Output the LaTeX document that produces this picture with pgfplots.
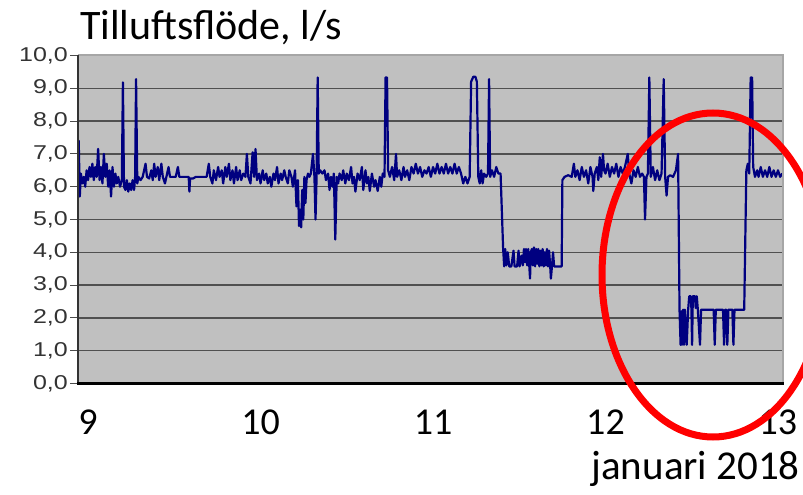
\documentclass[border=0pt]{standalone}
\usepackage{pgfplots}
\pgfplotsset{compat=1.18}
\usepackage{fontspec}
\setmainfont{Carlito}
\newfontfamily\yfont[FakeStretch=1.25]{Liberation Sans}
\definecolor{plotbg}{HTML}{C0C0C0}
\definecolor{navyline}{HTML}{000080}
\definecolor{gridc}{HTML}{505050}
\begin{document}
\begin{tikzpicture}
\useasboundingbox (0,0) rectangle (803pt,495pt);
\begin{axis}[
  at={(78pt,111.5pt)}, anchor=south west,
  scale only axis, width=705pt, height=328pt,
  xmin=-1.4, xmax=96.7, ymin=0, ymax=10,
  xtick={0,24,48,72,96}, xticklabels={9,10,11,12,13},
  ytick={0,1,...,10},
  yticklabels={{0,0},{1,0},{2,0},{3,0},{4,0},{5,0},{6,0},{7,0},{8,0},{9,0},{10,0}},
  axis background/.style={fill=plotbg},
  axis line style={draw=none},
  ymajorgrids, major grid style={gridc, line width=1.5pt},
  tick align=outside, ytick pos=left, xtick pos=bottom,
  xtick style={draw=none}, ytick style={black!70, line width=1pt},
  major tick length=8pt,
  yticklabel style={font=\yfont\fontsize{20}{20}\selectfont, text=black!80, anchor=east, inner sep=0pt, xshift=-2pt},
  xticklabel style={font=\fontsize{38}{38}\selectfont, anchor=base, inner sep=0pt, yshift=-43pt},
]
\addplot[navyline, line width=2.2pt, line join=round] coordinates {
(-1.4,6.2) (-1.3,7.4) (-1.15,5.7) (-1.0,6.4) (-0.8,6.1) (-0.6,6.3) (-0.4,6.0) (-0.2,6.5) (0,6.2) (0.2,6.6)
(0.4,6.3) (0.6,6.7) (0.8,6.2) (1.0,6.6) (1.2,6.3) (1.4,7.15) (1.6,6.2) (1.8,6.6) (2.0,6.1) (2.2,7.0)
(2.4,6.3) (2.6,6.7) (2.8,6.0) (3.0,6.5) (3.2,5.7) (3.4,6.6) (3.6,6.0) (3.8,6.4) (4.0,6.1) (4.2,6.3)
(4.45,6.0) (4.7,6.2) (4.85,9.18) (5.0,6.0) (5.2,5.9) (5.4,6.2) (5.6,5.85) (5.8,6.1) (6.0,5.9) (6.2,6.2)
(6.4,5.9) (6.55,6.3) (6.68,9.28) (6.85,6.1) (7.0,6.3) (7.3,6.2) (7.6,6.3) (8.0,6.7) (8.2,6.3) (8.5,6.25)
(8.8,6.5) (9.0,6.2) (9.2,6.7) (9.4,6.3) (9.7,6.6) (9.9,6.2) (10.2,6.7) (10.4,6.3) (10.7,6.1) (10.9,6.3)
(11.2,6.6) (11.4,6.3) (11.8,6.3) (12.2,6.3) (12.5,6.6) (12.7,6.3) (13.2,6.3) (13.6,6.3) (14.0,6.3) (14.1,5.85)
(14.2,6.25) (14.6,6.25) (15.0,6.3) (15.5,6.3) (16.0,6.3) (16.5,6.3) (16.8,6.7) (17.0,6.3) (17.3,6.1) (17.5,6.5)
(17.8,6.2) (18.1,6.6) (18.3,6.3) (18.6,6.5) (18.8,6.1) (19.1,6.6) (19.3,6.3) (19.6,6.7) (19.8,6.2) (20.1,6.5)
(20.3,6.1) (20.6,6.6) (20.8,6.2) (21.1,6.5) (21.3,6.2) (21.6,6.4) (21.9,6.3) (22.1,7.0) (22.3,6.3) (22.6,6.1)
(22.9,7.05) (23.1,6.3) (23.3,7.15) (23.5,6.2)
(23.8,6.4) (24.0,6.1) (24.3,6.5) (24.5,6.2) (24.8,6.4) (25.0,6.1) (25.3,6.3) (25.5,6.0) (25.8,6.4) (26.0,6.2)
(26.3,6.6) (26.5,6.1) (26.8,6.4) (27.0,6.2) (27.3,6.5) (27.5,6.3) (27.8,6.1) (28.0,6.5) (28.3,6.3) (28.5,6.0)
(28.8,6.5) (29.0,5.4) (29.2,6.2) (29.35,4.8) (29.5,5.3) (29.65,4.76) (29.8,5.9) (29.95,5.0) (30.1,6.3) (30.25,5.5)
(30.4,6.2) (30.6,6.4) (30.8,6.3) (31.0,6.4) (31.3,7.0) (31.5,6.3) (31.65,5.0) (31.8,6.3) (31.95,9.33) (32.1,6.4)
(32.3,6.5) (32.6,6.4) (32.9,6.5) (33.1,6.2) (33.4,6.4) (33.6,5.9) (33.8,6.3) (34.0,6.0) (34.2,6.4) (34.4,4.39)
(34.6,6.3) (34.8,6.1) (35.0,6.4) (35.3,6.2) (35.5,6.5) (35.8,6.1) (36.0,6.4) (36.3,6.2) (36.6,6.6) (36.8,6.1)
(37.0,6.3) (37.2,5.85) (37.5,6.4) (37.8,6.2) (38.1,6.6) (38.3,5.9) (38.6,6.5) (38.8,6.1) (39.0,6.3) (39.2,5.87)
(39.5,6.4) (39.8,6.0) (40.0,6.2) (40.3,5.87) (40.6,6.3) (40.8,6.0) (41.0,6.4) (41.25,6.3) (41.4,9.33) (41.6,9.33)
(41.75,6.5) (42.0,6.3) (42.3,6.6) (42.6,6.2) (42.85,7.0) (43.0,6.3) (43.3,6.5) (43.6,6.2) (43.9,6.6) (44.1,6.3)
(44.4,6.5) (44.7,6.2) (45.0,6.6) (45.3,6.4) (45.6,6.7) (45.9,6.4) (46.2,6.6) (46.5,6.3) (46.8,6.5) (47.1,6.4)
(47.4,6.6) (47.7,6.3)
(48.0,6.6) (48.3,6.4) (48.6,6.7) (48.9,6.4) (49.2,6.6) (49.5,6.4) (49.8,6.7) (50.1,6.4) (50.4,6.6) (50.7,6.4)
(51.0,6.7) (51.3,6.4) (51.6,6.6) (51.9,6.4) (52.2,6.1) (52.5,6.3) (52.8,6.1) (53.1,6.3) (53.3,9.2) (53.6,9.35)
(53.9,9.35) (54.1,9.2) (54.3,6.3) (54.5,6.1) (54.7,6.5) (54.9,6.1) (55.1,6.4) (55.4,6.3) (55.65,6.4) (55.8,9.28)
(55.95,6.3) (56.2,6.5) (56.5,6.3) (56.8,6.6) (57.1,6.4) (57.4,6.4) (57.75,4.15) (57.9,3.57)
(58.05,4.1) (58.2,3.6) (58.4,4.0) (58.6,3.57) (58.9,3.57) (59.2,4.05) (59.35,3.57) (59.7,3.57) (59.9,4.05) (60.05,3.57)
(60.3,3.9) (60.5,3.6) (60.65,4.1) (60.8,3.7) (60.95,4.1) (61.1,3.6) (61.25,4.1) (61.4,3.57) (61.5,3.2) (61.6,4.0)
(61.75,4.1) (61.9,3.6) (62.05,4.15) (62.2,3.57) (62.35,4.1) (62.5,3.65) (62.65,4.1) (62.8,3.57) (62.95,4.05) (63.1,3.6)
(63.25,4.1) (63.4,3.57) (63.55,4.0) (63.7,3.6) (63.85,4.1) (64.0,3.57) (64.15,4.05) (64.3,3.6) (64.4,3.2) (64.55,3.57)
(64.7,4.0) (64.85,3.57) (65.2,3.57) (65.6,3.57) (65.9,3.57)
(66.0,6.2) (66.3,6.3) (66.8,6.35) (67.3,6.3) (67.6,6.7) (67.8,6.3) (68.1,6.5) (68.4,6.2) (68.7,6.6) (69.0,6.3)
(69.3,6.5) (69.6,6.1) (69.9,6.6) (70.2,6.3) (70.3,5.87) (70.5,6.4) (70.8,6.6) (71.0,6.2) (71.2,6.9) (71.4,6.3)
(71.65,7.0) (71.8,6.5)
(72.0,6.4) (72.3,6.7) (72.6,6.3) (72.9,6.6) (73.2,6.4) (73.5,6.7) (73.8,6.3) (74.1,6.6) (74.4,6.4) (74.7,6.6)
(75.1,7.0) (75.3,6.4) (75.6,6.1) (75.9,6.5) (76.2,6.3) (76.5,6.6) (76.8,6.3) (77.1,6.4) (77.35,6.3) (77.5,5.0)
(77.7,6.3) (77.9,6.4) (78.1,9.33) (78.3,6.3) (78.6,6.6) (78.9,6.2) (79.2,6.5) (79.5,6.2) (79.8,6.4) (80.1,9.28)
(80.3,6.3) (80.5,5.73) (80.7,6.3) (81.0,6.35) (81.4,6.3) (81.8,6.5) (82.1,7.0) (82.3,2.25) (82.45,1.18) (82.55,2.2)
(82.65,1.18) (82.8,2.25) (82.92,1.18) (83.05,2.25) (83.3,1.18) (83.5,2.25) (83.65,2.66) (83.85,2.66) (83.95,2.3) (84.05,1.18)
(84.15,2.66) (84.45,2.66) (84.55,2.3) (84.7,2.66) (84.85,2.25) (85.15,1.18) (85.3,2.25) (87.05,2.25) (87.2,1.18) (87.35,2.25)
(88.35,2.25) (88.5,1.18) (88.65,2.25) (88.8,2.25) (88.95,1.18) (89.1,2.25) (89.65,2.25) (89.8,1.18) (89.95,2.25) (91.3,2.25)
(91.6,6.5) (91.8,6.7) (92.0,6.4) (92.2,9.33) (92.4,9.33) (92.55,6.6) (92.8,6.3) (93.1,6.5) (93.3,6.3) (93.6,6.6)
(93.9,6.3) (94.2,6.5) (94.5,6.3) (94.8,6.6) (95.1,6.3) (95.4,6.5) (95.7,6.3) (96.0,6.5) (96.3,6.3) (96.6,6.4)
};
\end{axis}
\draw[black!35, line width=2pt] (78pt,439.5pt) -- (783pt,439.5pt) -- (783pt,111.5pt);
\draw[black!80, line width=1.5pt] (78pt,439.5pt) -- (78pt,111.5pt);
\draw[black, line width=2.5pt] (77pt,111.5pt) -- (784pt,111.5pt);
\node[anchor=base west, font=\fontsize{42}{42}\selectfont, inner sep=0pt] at (80pt,455pt) {Tilluftsflöde, l/s};
\node[anchor=base east, font=\fontsize{41}{41}\selectfont, inner sep=0pt] at (800pt,15pt) {januari 2018};
\draw[red, line width=7pt] (713pt,220pt) ellipse [x radius=111pt, y radius=162pt];
\end{tikzpicture}
\end{document}
